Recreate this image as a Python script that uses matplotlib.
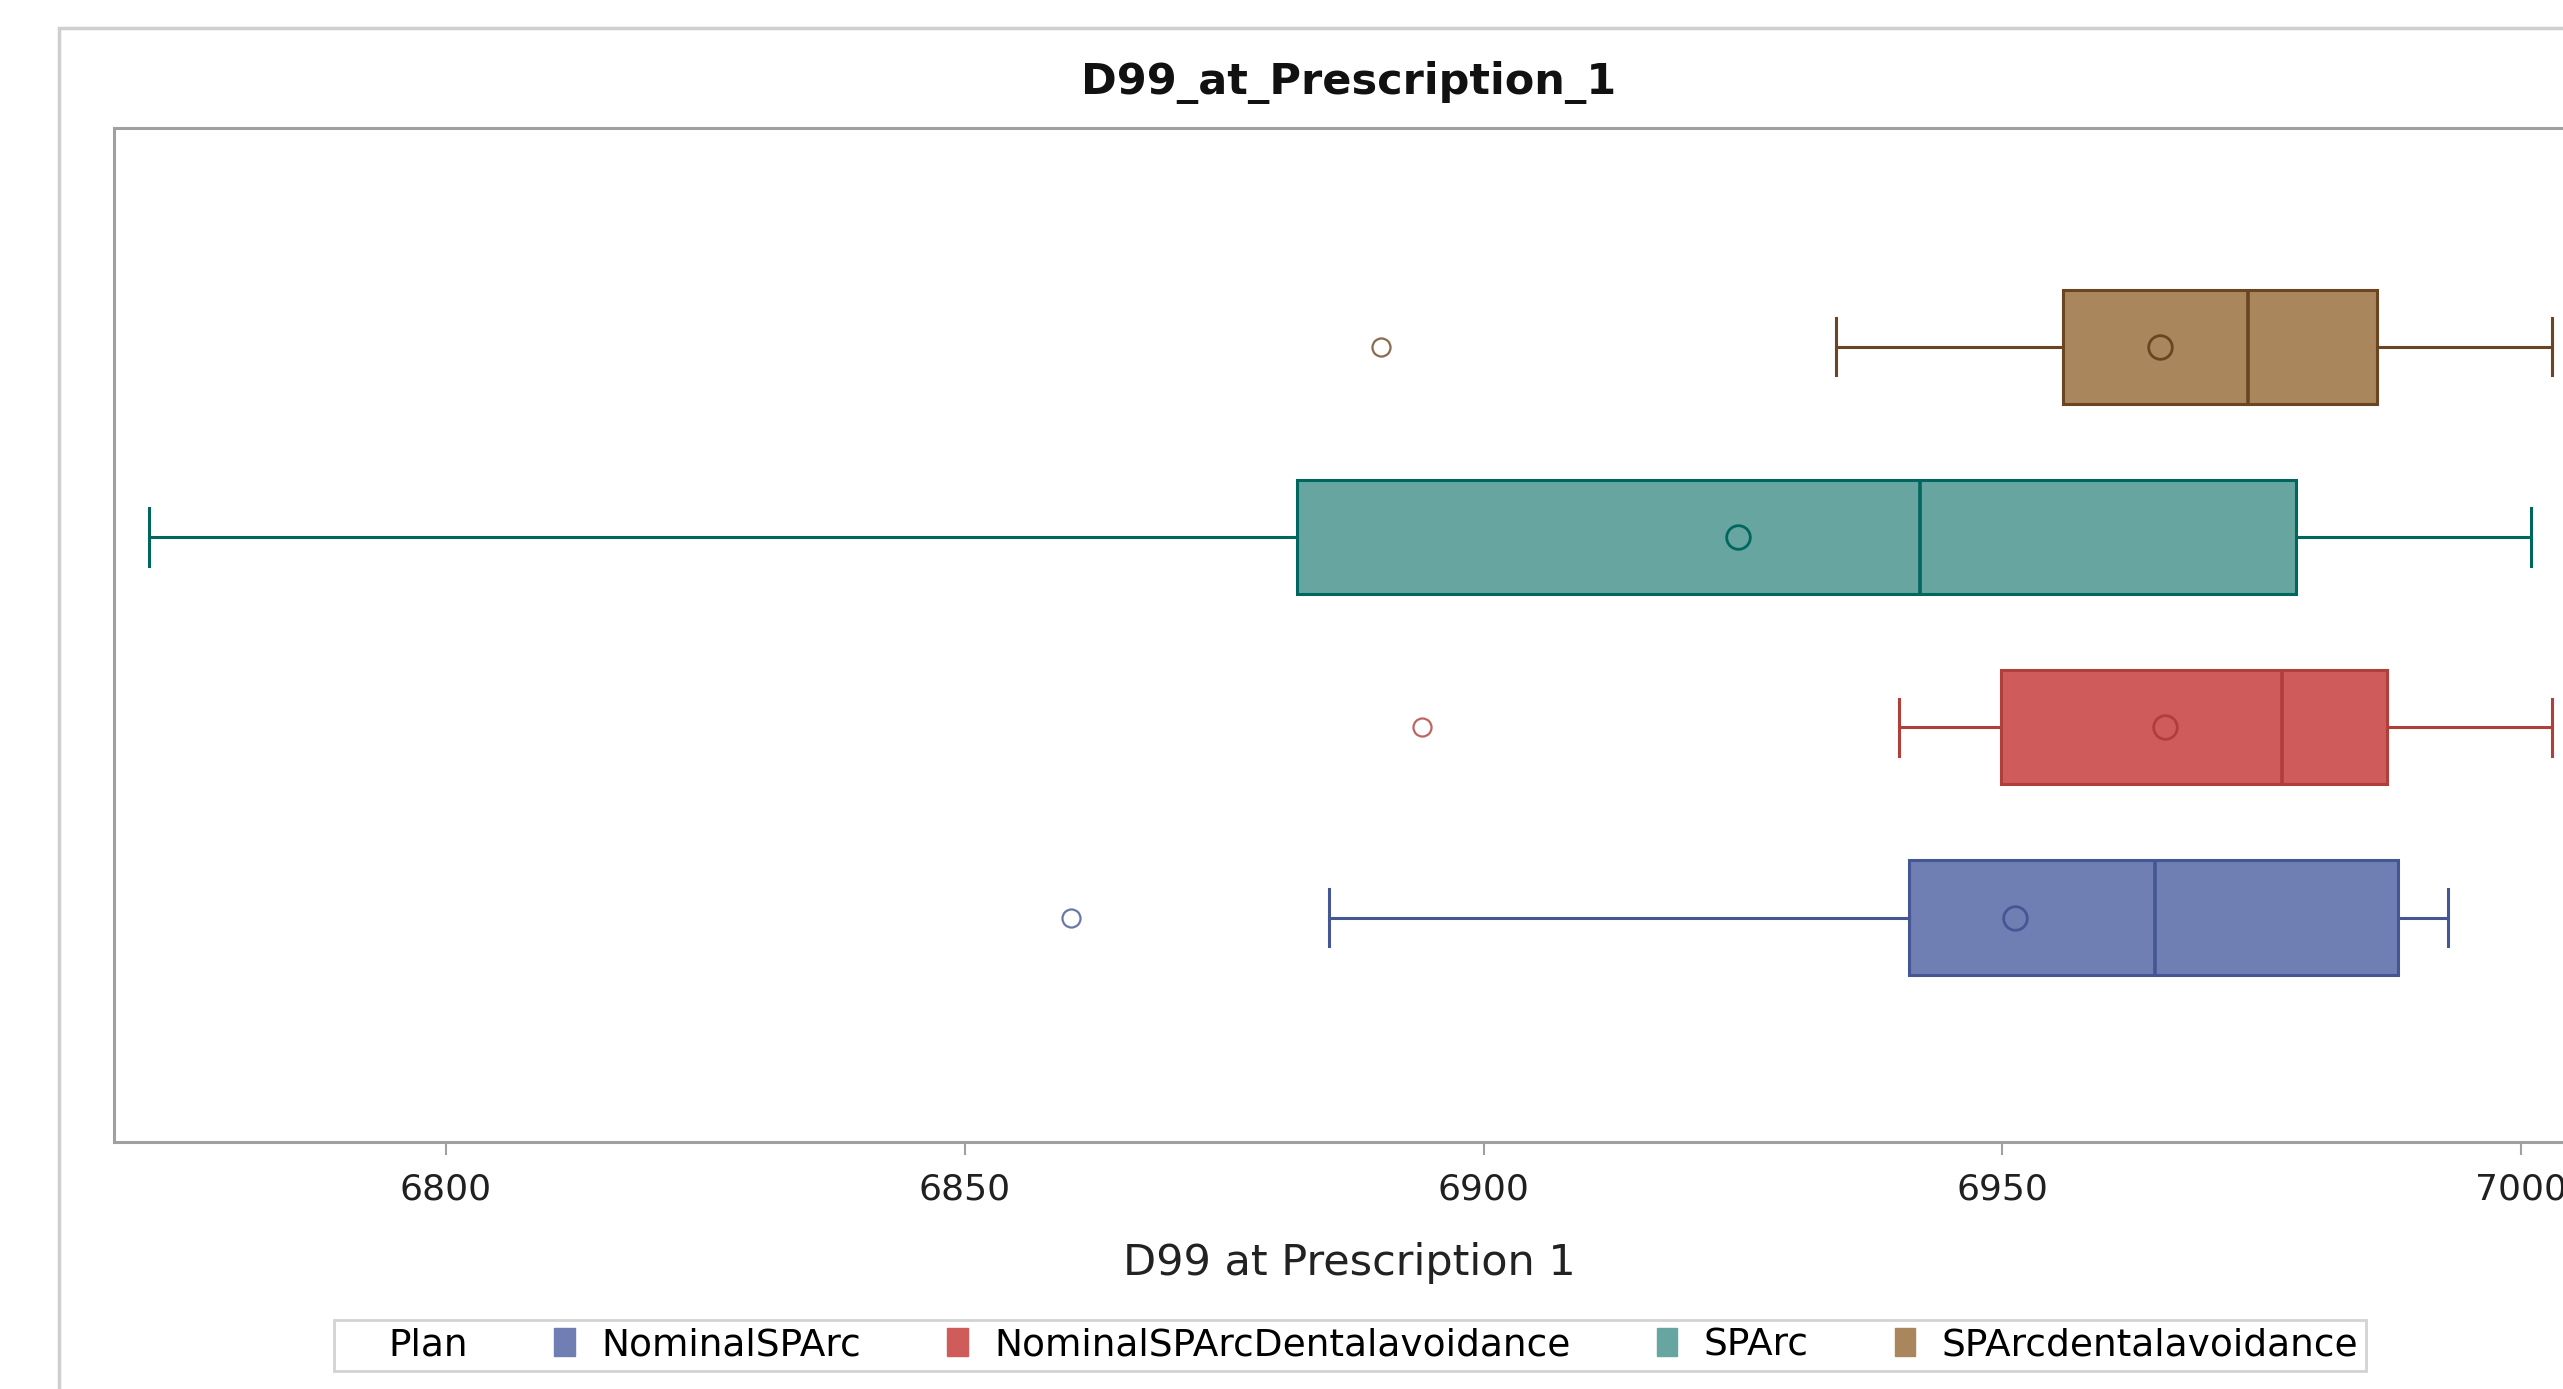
import matplotlib
matplotlib.use("Agg")
import matplotlib.pyplot as plt
from matplotlib.patches import Patch, Rectangle

# box plot summaries per plan (D99 at prescription 1)
plans = ["NominalSPArc", "NominalSPArcDentalavoidance", "SPArc", "SPArcdentalavoidance"]
whislo = [6885.1, 6940.0, 6771.4, 6934.0]
q1 = [6941.0, 6949.9, 6882.0, 6955.9]
median = [6964.7, 6977.0, 6942.1, 6973.7]
q3 = [6988.1, 6987.1, 6978.3, 6986.1]
whishi = [6993.0, 7003.0, 7001.0, 7003.0]
means = [6951.2, 6965.7, 6924.5, 6965.2]
outliers = [[6860.2], [6894.1], [], [6890.1]]

fills = ["#6f7eb3", "#d05b5b", "#66a5a0", "#a9865b"]
edges = ["#445694", "#b03f3a", "#01665e", "#6b4522"]

W, H = 2563, 1389
fig = plt.figure(figsize=(W / 100, H / 100), dpi=100)
fig.patch.set_facecolor("white")

# outer graph border
fig.patches.append(Rectangle((59 / W, -0.1), 1.2, 1 - 28 / H + 0.1,
                             transform=fig.transFigure, fill=False,
                             edgecolor="#cfcfcf", linewidth=2.5))

xmin, xmax = 6768.0, 7010.0
ax = fig.add_axes([114 / W, 1 - 1142 / H, (xmax - xmin) * 10.375 / W, 1014 / H])

stats = []
for i, p in enumerate(plans):
    stats.append(dict(label=p, whislo=whislo[i], q1=q1[i], med=median[i],
                      q3=q3[i], whishi=whishi[i], mean=means[i],
                      fliers=outliers[i]))

for i, s in enumerate(stats):
    ax.bxp([s], positions=[i], widths=0.6, orientation="horizontal",
           patch_artist=True, showmeans=True, showfliers=True,
           boxprops=dict(facecolor=fills[i], edgecolor=edges[i], linewidth=2.2),
           medianprops=dict(color=edges[i], linewidth=2.6),
           whiskerprops=dict(color=edges[i], linewidth=2.2),
           capprops=dict(color=edges[i], linewidth=2.2),
           meanprops=dict(marker="o", markersize=17, markerfacecolor="none",
                          markeredgecolor=edges[i], markeredgewidth=2.0),
           flierprops=dict(marker="o", markersize=13, markerfacecolor="none",
                           markeredgecolor=edges[i], markeredgewidth=1.6,
                           alpha=0.8),
           capwidths=0.3)

ax.set_xlim(xmin, xmax)
ax.set_ylim(-1.18, 4.15)
ax.set_xticks([6800, 6850, 6900, 6950, 7000])
ax.set_yticks([])
for sp in ax.spines.values():
    sp.set_color("#a0a0a0")
    sp.set_linewidth(2.2)
ax.tick_params(axis="x", colors="#a0a0a0", length=9, width=1.5, pad=13,
               labelsize=26, labelcolor="#202020")

fig.text(1349 / W, 1 - 82 / H, "D99_at_Prescription_1", ha="center",
         va="center", fontsize=31, fontweight="bold", color="#111111")
fig.text(1349 / W, 1 - 1263 / H, "D99 at Prescription 1", ha="center",
         va="center", fontsize=31, color="#222222")

handles = [Patch(facecolor="none", edgecolor="none", label="Plan")]
for i, p in enumerate(plans):
    handles.append(Patch(facecolor=fills[i], edgecolor=fills[i], label=p))
leg = fig.legend(handles=handles, loc="center", ncol=5,
                 bbox_to_anchor=(1350 / W, 1 - 1345 / H), fontsize=27,
                 frameon=True, fancybox=False, handlelength=0.55,
                 handleheight=0.75, handletextpad=0.7, columnspacing=2.3,
                 borderpad=0.2, borderaxespad=0)
leg.get_frame().set_edgecolor("#c8c8c8")
leg.get_frame().set_linewidth(2.0)

fig.savefig("out.png", dpi=100)
